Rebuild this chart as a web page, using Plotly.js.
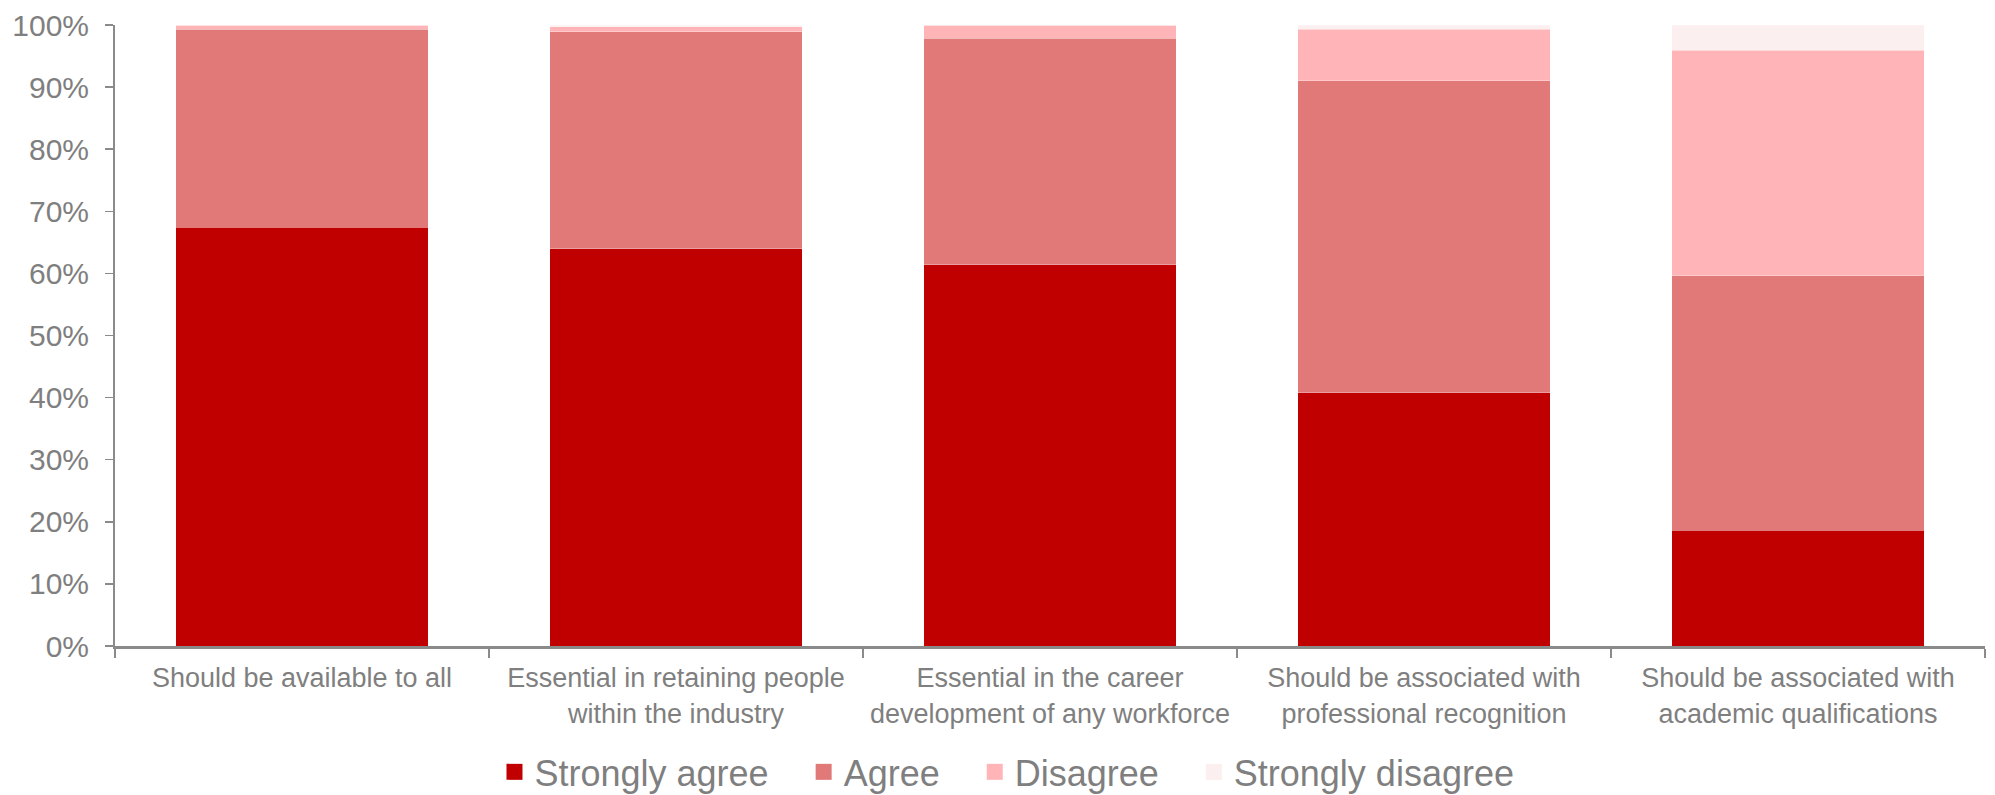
<!DOCTYPE html>
<html>
<head>
<meta charset="utf-8">
<script src="https://cdn.plot.ly/plotly-3.0.1.min.js"></script>
<style>
  html, body { margin: 0; padding: 0; background: #fff; }
  #chart { width: 1995px; height: 795px; }
</style>
</head>
<body>
<div id="chart"></div>
<script>
const categories = [
  "Should be available to all",
  "Essential in retaining people<br>within the industry",
  "Essential in the career<br>development of any workforce",
  "Should be associated with<br>professional recognition",
  "Should be associated with<br>academic qualifications"
];
const stronglyAgree    = [67.4, 64.0, 61.4, 40.8, 18.6];
const agree            = [31.9, 34.9, 36.5, 50.2, 41.0];
const disagree         = [0.7, 0.8, 2.1, 8.3, 36.3];
const stronglyDisagree = [0.0, 0.3, 0.0, 0.7, 4.1];

const seriesNames = ["Strongly agree", "Agree", "Disagree", "Strongly disagree"];
const seriesColors = ["#C00000", "#E27979", "#FFB5B7", "#FCEFEF"];
const seriesValues = [stronglyAgree, agree, disagree, stronglyDisagree];

const barTraces = seriesValues.map((vals, i) => ({
  type: "bar",
  name: seriesNames[i],
  x: categories,
  y: vals,
  showlegend: false,
  legendgroup: seriesNames[i],
  marker: { color: seriesColors[i], line: { width: 0.8, color: "rgba(255,255,255,0.35)" } },
  hoverinfo: "x+y+name"
}));

// legend entries (no data points) with larger square swatches
const pad = "\u00a0\u00a0\u00a0";
const legendTraces = seriesNames.map((name, i) => ({
  type: "scatter",
  mode: "markers",
  name: i < seriesNames.length - 1 ? name + pad : name,
  x: [null],
  y: [null],
  legendgroup: name,
  showlegend: true,
  marker: { symbol: "square", size: 16, color: seriesColors[i] },
  hoverinfo: "skip"
}));

const axisGray = "#8a8a8a";
const textGray = "#7f7f7f";
const fontFam = "Liberation Sans, Arial, sans-serif";

const layout = {
  width: 1995,
  height: 795,
  barmode: "stack",
  bargap: 0.326,
  paper_bgcolor: "#ffffff",
  plot_bgcolor: "#ffffff",
  margin: { l: 115, r: 10, t: 25, b: 149 },
  font: { family: fontFam, color: textGray },
  showlegend: true,
  legend: {
    orientation: "h",
    xref: "paper",
    x: 0.477, xanchor: "center",
    yref: "container",
    y: 0.029, yanchor: "middle",
    font: { size: 36, color: textGray, family: fontFam },
    traceorder: "normal",
    itemsizing: "trace"
  },
  xaxis: {
    type: "category",
    automargin: false,
    showline: true,
    linecolor: axisGray,
    linewidth: 3,
    ticks: "outside",
    tickson: "boundaries",
    ticklen: 9,
    tickwidth: 1.5,
    tickcolor: axisGray,
    tickfont: { size: 27, color: textGray, family: fontFam },
    ticklabelstandoff: 6,
    showgrid: false,
    zeroline: false,
    fixedrange: true
  },
  yaxis: {
    range: [0, 100],
    automargin: false,
    dtick: 10,
    tick0: 0,
    ticksuffix: "%",
    showline: true,
    linecolor: axisGray,
    linewidth: 2,
    ticks: "outside",
    ticklen: 8,
    tickwidth: 1.5,
    tickcolor: axisGray,
    tickfont: { size: 30, color: textGray, family: fontFam },
    ticklabelstandoff: 10,
    showgrid: false,
    zeroline: false,
    fixedrange: true
  }
};

Plotly.newPlot("chart", barTraces.concat(legendTraces), layout, { displayModeBar: false, staticPlot: true });
</script>
</body>
</html>
